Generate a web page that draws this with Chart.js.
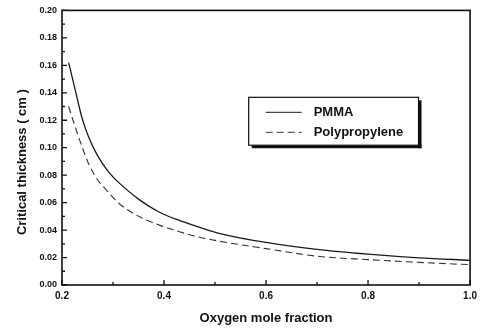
<!DOCTYPE html>
<html>
<head>
<meta charset="utf-8">
<script src="https://cdn.jsdelivr.net/npm/chart.js@4"></script>
<style>
  html, body { margin: 0; padding: 0; background: #fff; }
  #wrap { width: 482px; height: 330px; }
</style>
</head>
<body>
<div id="wrap"><canvas id="chartCanvas"></canvas></div>
<script>
// oxygen mole fraction (x) and critical thickness in cm for each material
var oxygenFraction = [0.213, 0.226, 0.239, 0.252, 0.27, 0.29, 0.313, 0.352, 0.391, 0.43, 0.47, 0.51, 0.6, 0.7, 0.8, 0.9, 1.0];
var pmmaThickness  = [0.162, 0.142, 0.122, 0.108, 0.094, 0.083, 0.074, 0.062, 0.053, 0.047, 0.042, 0.0375, 0.031, 0.026, 0.0225, 0.0198, 0.018];
var ppThickness    = [0.130, 0.115, 0.101, 0.0885, 0.0765, 0.068, 0.059, 0.0497, 0.0436, 0.0388, 0.0348, 0.0318, 0.0265, 0.021, 0.0185, 0.0165, 0.0148];
var seriesLabels   = ['PMMA', 'Polypropylene'];
var yTicks = [0, 0.02, 0.04, 0.06, 0.08, 0.10, 0.12, 0.14, 0.16, 0.18, 0.20];
var xTicks = [0.2, 0.4, 0.6, 0.8, 1.0];
var yTitle = 'Critical thickness ( cm )';
var xTitle = 'Oxygen mole fraction';

var FONT = '"Liberation Sans", Arial, sans-serif';

function toPoints(xs, ys) {
  return xs.map(function(x, i) { return {x: x, y: ys[i]}; });
}

// inward ticks + frame + y title, drawn from the scales
var framePlugin = {
  id: 'frame',
  afterDatasetsDraw: function(chart) {
    var ctx = chart.ctx, a = chart.chartArea;
    var xs = chart.scales.x, ys = chart.scales.y;
    ctx.save();
    ctx.strokeStyle = '#111';
    ctx.lineWidth = 1.6;
    ctx.strokeRect(a.left, a.top, a.right - a.left, a.bottom - a.top);
    ctx.lineWidth = 1.3;
    ctx.beginPath();
    for (var v = 0; v <= 0.2001; v += 0.01) {
      var py = ys.getPixelForValue(v);
      var major = Math.round(v * 100) % 2 == 0;
      ctx.moveTo(a.left, py);
      ctx.lineTo(a.left + (major ? 5 : 3), py);
    }
    for (var u = 0.2; u <= 1.0001; u += 0.1) {
      var px = xs.getPixelForValue(u);
      var maj = Math.round(u * 10) % 2 == 0;
      ctx.moveTo(px, a.bottom);
      ctx.lineTo(px, a.bottom - (maj ? 5 : 3));
    }
    ctx.stroke();
    // y axis title sits a bit below the middle in the original
    ctx.translate(22, ys.getPixelForValue(0.0895));
    ctx.rotate(-Math.PI / 2);
    ctx.fillStyle = '#111';
    ctx.font = 'bold 13px ' + FONT;
    ctx.textAlign = 'center';
    ctx.textBaseline = 'middle';
    ctx.fillText(yTitle, 0, 0);
    ctx.restore();
  }
};

// boxed legend with drop shadow inside the plot
var legendBoxPlugin = {
  id: 'legendBox',
  afterDraw: function(chart) {
    var ctx = chart.ctx;
    var xs = chart.scales.x, ys = chart.scales.y;
    var left = xs.getPixelForValue(0.566), right = xs.getPixelForValue(0.899);
    var top = ys.getPixelForValue(0.1367), bottom = ys.getPixelForValue(0.1018);
    ctx.save();
    ctx.fillStyle = '#111';
    ctx.fillRect(left + 3, bottom, right - left, 3);
    ctx.fillRect(right, top + 3, 3, bottom - top);
    ctx.fillStyle = '#fff';
    ctx.fillRect(left, top, right - left, bottom - top);
    ctx.strokeStyle = '#111';
    ctx.lineWidth = 1.2;
    ctx.strokeRect(left, top, right - left, bottom - top);
    ctx.font = 'bold 13px ' + FONT;
    ctx.textBaseline = 'middle';
    chart.data.datasets.forEach(function(ds, i) {
      var y = top + 15 + i * 20;
      ctx.beginPath();
      ctx.strokeStyle = ds.borderColor;
      ctx.lineWidth = 1;
      ctx.setLineDash(ds.borderDash || []);
      ctx.moveTo(left + 17, y);
      ctx.lineTo(left + 53, y);
      ctx.stroke();
      ctx.setLineDash([]);
      ctx.fillStyle = '#111';
      ctx.fillText(ds.label, left + 65, y);
    });
    ctx.restore();
  }
};

var ctx = document.getElementById('chartCanvas').getContext('2d');
var chart = new Chart(ctx, {
  type: 'line',
  data: {
    datasets: [
      {
        label: seriesLabels[0],
        data: toPoints(oxygenFraction, pmmaThickness),
        borderColor: '#1a1a1a',
        borderWidth: 1.3,
        pointRadius: 0,
        cubicInterpolationMode: 'monotone',
        fill: false
      },
      {
        label: seriesLabels[1],
        data: toPoints(oxygenFraction, ppThickness),
        borderColor: '#333',
        borderWidth: 1.1,
        borderDash: [7, 4],
        pointRadius: 0,
        cubicInterpolationMode: 'monotone',
        fill: false
      }
    ]
  },
  options: {
    responsive: true,
    maintainAspectRatio: false,
    animation: false,
    layout: { padding: { top: 10, right: 9, left: 0, bottom: 4 } },
    plugins: { legend: { display: false }, tooltip: { enabled: false } },
    scales: {
      x: {
        type: 'linear',
        min: 0.2,
        max: 1.0,
        afterBuildTicks: function(scale) {
          scale.ticks = xTicks.map(function(v) { return {value: v}; });
        },
        afterFit: function(scale) { scale.height = 41; },
        grid: { display: false, drawTicks: false },
        border: { display: false },
        ticks: {
          padding: 5,
          color: '#111',
          font: { family: FONT, size: 10, weight: 'bold' },
          callback: function(v) { return Number(v).toFixed(1); }
        },
        title: {
          display: true,
          text: xTitle,
          color: '#111',
          padding: { top: 7, bottom: 0 },
          font: { family: FONT, size: 13, weight: 'bold' }
        }
      },
      y: {
        min: 0,
        max: 0.2,
        afterBuildTicks: function(scale) {
          scale.ticks = yTicks.map(function(v) { return {value: v}; });
        },
        afterFit: function(scale) { scale.width = 62; },
        grid: { display: false, drawTicks: false },
        border: { display: false },
        ticks: {
          padding: 5,
          color: '#111',
          font: { family: FONT, size: 9, weight: 'bold' },
          callback: function(v) { return Number(v).toFixed(2); }
        }
      }
    }
  },
  plugins: [framePlugin, legendBoxPlugin]
});
</script>
</body>
</html>
